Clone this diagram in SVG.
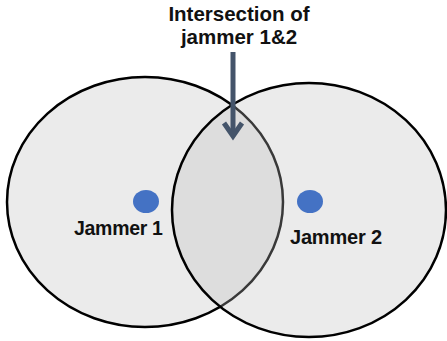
<svg xmlns="http://www.w3.org/2000/svg" width="447" height="341" viewBox="0 0 447 341">
<style>
.lbl{font-family:"Liberation Sans",Arial,sans-serif;font-weight:bold;fill:#111;}
.dot{fill:#4472c4;}
</style>
<rect width="447" height="341" fill="#ffffff"/>
<g id="jammer1">
<ellipse cx="145" cy="202" rx="138" ry="125" fill="#ebebeb" stroke="#000" stroke-width="2.5"/>
<ellipse class="dot" cx="146" cy="201.5" rx="13" ry="11.5"/>
<text class="lbl" x="74" y="235" font-size="19.5" letter-spacing="-0.3">Jammer 1</text>
</g>
<g id="jammer2">
<ellipse cx="309" cy="210" rx="137" ry="127" fill="rgb(188,188,188)" fill-opacity="0.3" stroke="#000" stroke-width="2.5"/>
<ellipse class="dot" cx="310" cy="201.5" rx="13" ry="11.5"/>
<text class="lbl" x="290" y="244" font-size="20" letter-spacing="-0.2">Jammer 2</text>
</g>
<g id="label">
<text class="lbl" x="239" y="21" font-size="20.5" text-anchor="middle">Intersection of</text>
<text class="lbl" x="239" y="44" font-size="20.5" text-anchor="middle">jammer 1&amp;2</text>
</g>
<g id="connectors">
<line x1="233" y1="52" x2="233" y2="136" stroke="#44546a" stroke-width="5"/>
<path d="M224,123 L233,136 L242,123" fill="none" stroke="#44546a" stroke-width="5" stroke-linejoin="miter"/>
</g>
</svg>
